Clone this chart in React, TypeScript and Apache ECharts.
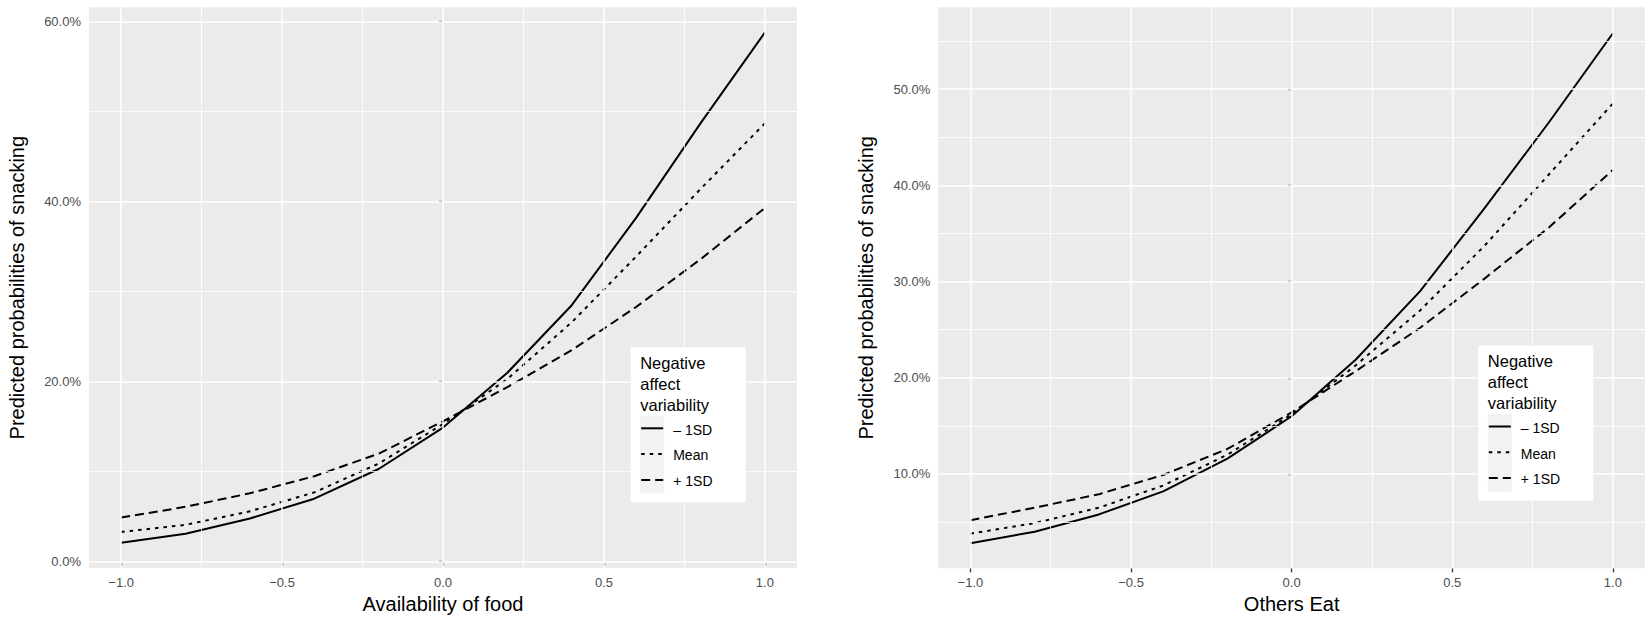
import React, { useEffect, useRef } from "react";
import * as echarts from "echarts";

// ---- data ----
const xValues = [-1, -0.8, -0.6, -0.4, -0.2, 0, 0.2, 0.4, 0.6, 0.8, 1.0];

const foodMinus1SD = [2.1, 3.1, 4.8, 7.0, 10.3, 14.9, 21.0, 28.5, 38.2, 48.7, 58.8];
const foodMean = [3.3, 4.1, 5.6, 7.7, 10.9, 15.3, 20.3, 26.6, 33.9, 41.4, 48.7];
const foodPlus1SD = [4.9, 6.1, 7.6, 9.5, 12.0, 15.6, 19.4, 23.5, 28.3, 33.6, 39.3];

const othersMinus1SD = [2.8, 4.0, 5.8, 8.2, 11.6, 16.0, 21.9, 29.0, 37.6, 46.5, 55.8];
const othersMean = [3.8, 4.9, 6.5, 8.8, 12.0, 16.2, 21.3, 27.0, 33.7, 41.1, 48.5];
const othersPlus1SD = [5.2, 6.5, 7.9, 9.9, 12.6, 16.4, 20.7, 25.2, 30.3, 35.6, 41.6];

const xMajorTicks = [-1, -0.5, 0, 0.5, 1];
const xMinorTicks = [-0.75, -0.25, 0.25, 0.75];
const foodYMajor = [0, 20, 40, 60];
const foodYMinor = [10, 30, 50];
const othersYMajor = [10, 20, 30, 40, 50];
const othersYMinor = [5, 15, 25, 35, 45, 55];

const legendTitle = ["Negative", "affect", "variability"];
const legendLabels = ["\u2013 1SD", "Mean", "+ 1SD"];
const lineTypes: any[] = ["solid", [3.5, 5], [9, 5]];

const FONT = "'Liberation Sans', Arial, Helvetica, sans-serif";

function fmtX(v: number) {
  return v < 0 ? "\u2212" + Math.abs(v).toFixed(1) : v.toFixed(1);
}

function gridMarkLine(xMaj: number[], xMin: number[], yMaj: number[], yMin: number[]) {
  const mk = (key: string, v: number, w: number) => ({
    [key]: v,
    lineStyle: { color: "#ffffff", width: w, type: "solid" },
  });
  return {
    silent: true,
    symbol: ["none", "none"],
    label: { show: false },
    animation: false,
    data: [
      ...xMin.map((v) => mk("xAxis", v, 0.8)),
      ...yMin.map((v) => mk("yAxis", v, 0.8)),
      ...xMaj.map((v) => mk("xAxis", v, 1.5)),
      ...yMaj.map((v) => mk("yAxis", v, 1.5)),
    ],
  };
}

function legendGraphics(x0: number, y0: number) {
  const els: any[] = [];
  els.push({
    type: "rect",
    shape: { x: x0, y: y0, width: 115, height: 155 },
    style: { fill: "#ffffff" },
    z: 100,
  });
  legendTitle.forEach((t, i) => {
    els.push({
      type: "text",
      x: x0 + 9.5,
      y: y0 + 15.5 + i * 21,
      style: { text: t, fontSize: 16.5, fontFamily: FONT, fill: "#000", align: "left", verticalAlign: "middle" },
      z: 101,
    });
  });
  legendLabels.forEach((t, i) => {
    const ky = y0 + 68.7 + i * 25.8;
    els.push({
      type: "rect",
      shape: { x: x0 + 9.5, y: ky, width: 24, height: 25.8 },
      style: { fill: "#f2f2f2" },
      z: 101,
    });
    els.push({
      type: "line",
      shape: { x1: x0 + 10.5, y1: ky + 12.3, x2: x0 + 32.5, y2: ky + 12.3 },
      style: {
        stroke: "#000",
        lineWidth: 2,
        lineDash: lineTypes[i] === "solid" ? null : lineTypes[i],
        lineCap: "butt",
      },
      z: 102,
    });
    els.push({
      type: "text",
      x: x0 + 42.5,
      y: ky + 13.5,
      style: { text: t, fontSize: 14, fontFamily: FONT, fill: "#000", align: "left", verticalAlign: "middle" },
      z: 102,
    });
  });
  return els;
}

export default function App() {
  const ref = useRef<HTMLDivElement>(null);

  useEffect(() => {
    if (!ref.current) return;
    const chart = echarts.init(ref.current, undefined, { renderer: "svg" });

    const mkX = (gridIndex: number, name: string) => ({
      type: "value",
      gridIndex,
      min: -1.1,
      max: 1.1,
      name,
      nameLocation: "middle",
      nameGap: 26,
      nameTextStyle: { fontSize: 20, color: "#000", fontFamily: FONT },
      axisLine: { show: false },
      splitLine: { show: false },
      axisTick: {
        show: true,
        customValues: xMajorTicks,
        length: 4,
        lineStyle: { color: "#333333", width: 1.3 },
      },
      axisLabel: {
        customValues: xMajorTicks,
        formatter: (v: number) => fmtX(v),
        color: "#4D4D4D",
        fontSize: 13,
        fontFamily: FONT,
        margin: 8,
      },
    });

    const mkY = (gridIndex: number, min: number, max: number, ticks: number[]) => ({
      type: "value",
      gridIndex,
      min,
      max,
      name: "Predicted probabilities of snacking",
      nameLocation: "middle",
      nameGap: 62,
      nameTextStyle: { fontSize: 20, color: "#000", fontFamily: FONT },
      axisLine: { show: false },
      splitLine: { show: false },
      axisTick: {
        show: true,
        customValues: ticks,
        length: 4,
        lineStyle: { color: "#333333", width: 1.3 },
      },
      axisLabel: {
        customValues: ticks,
        formatter: (v: number) => v.toFixed(1) + "%",
        color: "#4D4D4D",
        fontSize: 13,
        fontFamily: FONT,
        margin: 8,
      },
    });

    const mkLine = (idx: number, arr: number[], t: number, name: string) => ({
      type: "line",
      name,
      xAxisIndex: idx,
      yAxisIndex: idx,
      data: xValues.map((x, i) => [x, arr[i]]),
      symbol: "none",
      showSymbol: false,
      z: 3,
      lineStyle: { color: "#000", width: 2, type: lineTypes[t], cap: "butt" },
    });

    chart.setOption({
      animation: false,
      backgroundColor: "#ffffff",
      grid: [
        {
          left: 89, top: 7.3, width: 708, height: 560.7,
          show: true, backgroundColor: "#EBEBEB", borderWidth: 0, containLabel: false,
        },
        {
          left: 938.3, top: 7.3, width: 706.7, height: 561,
          show: true, backgroundColor: "#EBEBEB", borderWidth: 0, containLabel: false,
        },
      ],
      xAxis: [mkX(0, "Availability of food"), mkX(1, "Others Eat")],
      yAxis: [mkY(0, -0.7, 61.6, foodYMajor), mkY(1, 0.2, 58.5, othersYMajor)],
      series: [
        {
          type: "line", xAxisIndex: 0, yAxisIndex: 0, data: [], z: 1,
          markLine: gridMarkLine(xMajorTicks, xMinorTicks, foodYMajor, foodYMinor),
        },
        {
          type: "line", xAxisIndex: 1, yAxisIndex: 1, data: [], z: 1,
          markLine: gridMarkLine(xMajorTicks, xMinorTicks, othersYMajor, othersYMinor),
        },
        mkLine(0, foodMinus1SD, 0, "\u2013 1SD"),
        mkLine(0, foodMean, 1, "Mean"),
        mkLine(0, foodPlus1SD, 2, "+ 1SD"),
        mkLine(1, othersMinus1SD, 0, "\u2013 1SD"),
        mkLine(1, othersMean, 1, "Mean"),
        mkLine(1, othersPlus1SD, 2, "+ 1SD"),
      ],
      graphic: [...legendGraphics(630.7, 347.3), ...legendGraphics(1478.3, 345.5)],
    });

    return () => chart.dispose();
  }, []);

  return (
    <div
      ref={ref}
      style={{ position: "absolute", left: 0, top: 0, width: 1650, height: 625, background: "#fff" }}
    />
  );
}
